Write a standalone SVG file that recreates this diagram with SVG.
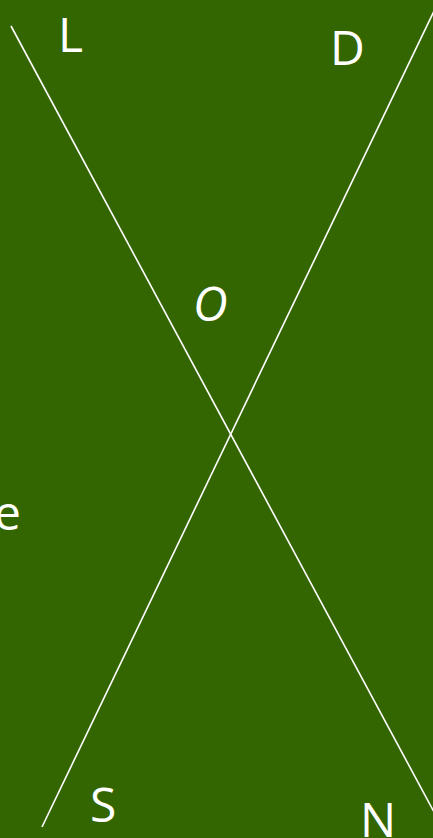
<svg xmlns="http://www.w3.org/2000/svg" width="433" height="838" viewBox="0 0 433 838">
<style>
.lbl{font-family:"Open Sans","DejaVu Sans",sans-serif;font-size:48px;fill:#ffffff}
.ln{stroke:#ffffff;stroke-width:1.6;fill:none}
</style>
<rect x="0" y="0" width="433" height="838" fill="#336600"/>
<g id="connectors">
<line class="ln" x1="11" y1="26" x2="434" y2="812"/>
<line class="ln" x1="434" y1="11" x2="42" y2="827"/>
</g>
<g id="L"><text class="lbl" x="58" y="52">L</text></g>
<g id="D"><text class="lbl" x="330" y="65">D</text></g>
<g id="O"><text class="lbl" x="193" y="321" font-style="italic">O</text></g>
<g id="e"><text class="lbl" x="-6" y="530">e</text></g>
<g id="S"><text class="lbl" x="90" y="822">S</text></g>
<g id="N"><text class="lbl" x="360" y="837">N</text></g>
</svg>
